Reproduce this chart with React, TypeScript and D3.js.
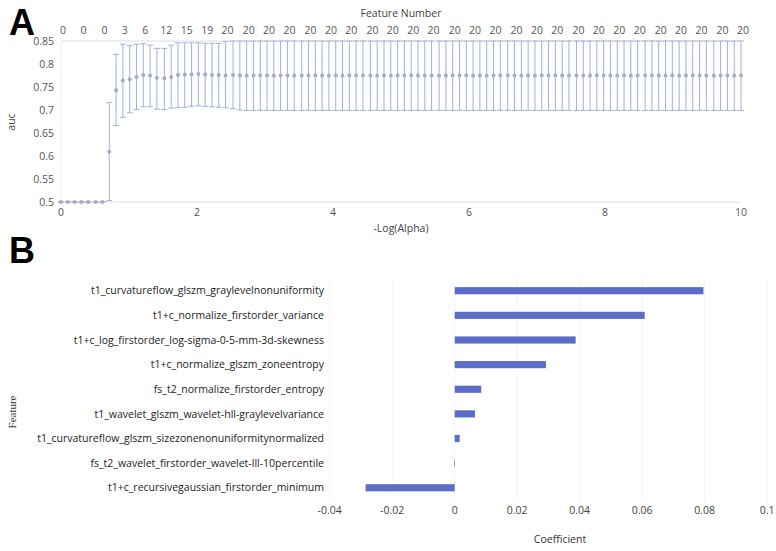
import React from "react";
import * as d3 from "d3";

// Panel A: -log(alpha) grid, cross-validated auc (mean with upper/lower bars)
const logAlpha = [
  0, 0.1, 0.2, 0.3, 0.4, 0.51, 0.61, 0.71, 0.81, 0.91,
  1.01, 1.11, 1.21, 1.31, 1.41, 1.52, 1.62, 1.72, 1.82, 1.92,
  2.02, 2.12, 2.22, 2.32, 2.42, 2.53, 2.63, 2.73, 2.83, 2.93,
  3.03, 3.13, 3.23, 3.33, 3.43, 3.54, 3.64, 3.74, 3.84, 3.94,
  4.04, 4.14, 4.24, 4.34, 4.44, 4.55, 4.65, 4.75, 4.85, 4.95,
  5.05, 5.15, 5.25, 5.35, 5.45, 5.56, 5.66, 5.76, 5.86, 5.96,
  6.06, 6.16, 6.26, 6.36, 6.46, 6.57, 6.67, 6.77, 6.87, 6.97,
  7.07, 7.17, 7.27, 7.37, 7.47, 7.58, 7.68, 7.78, 7.88, 7.98,
  8.08, 8.18, 8.28, 8.38, 8.48, 8.59, 8.69, 8.79, 8.89, 8.99,
  9.09, 9.19, 9.29, 9.39, 9.49, 9.6, 9.7, 9.8, 9.9, 10,
];

const aucMean = [
  0.5, 0.5, 0.5, 0.5, 0.5, 0.5, 0.5, 0.609, 0.743, 0.764,
  0.767, 0.772, 0.776, 0.775, 0.77, 0.769, 0.772, 0.776, 0.777, 0.777,
  0.778, 0.777, 0.776, 0.776, 0.775, 0.776, 0.775, 0.775, 0.775, 0.775,
  0.775, 0.775, 0.775, 0.775, 0.775, 0.775, 0.775, 0.775, 0.775, 0.775,
  0.775, 0.775, 0.775, 0.775, 0.775, 0.775, 0.775, 0.775, 0.775, 0.775,
  0.775, 0.775, 0.775, 0.775, 0.775, 0.775, 0.775, 0.775, 0.775, 0.775,
  0.775, 0.775, 0.775, 0.775, 0.775, 0.775, 0.775, 0.775, 0.775, 0.775,
  0.775, 0.775, 0.775, 0.775, 0.775, 0.775, 0.775, 0.775, 0.775, 0.775,
  0.775, 0.775, 0.775, 0.775, 0.775, 0.775, 0.775, 0.775, 0.775, 0.775,
  0.775, 0.775, 0.775, 0.775, 0.775, 0.775, 0.775, 0.775, 0.775, 0.775,
];

const aucUpper = [
  0.5, 0.5, 0.5, 0.5, 0.5, 0.5, 0.5, 0.716, 0.821, 0.843,
  0.84, 0.843, 0.844, 0.841, 0.834, 0.834, 0.841, 0.846, 0.846, 0.846,
  0.846, 0.845, 0.845, 0.845, 0.849, 0.85, 0.85, 0.85, 0.85, 0.85,
  0.85, 0.85, 0.85, 0.85, 0.85, 0.85, 0.85, 0.85, 0.85, 0.85,
  0.85, 0.85, 0.85, 0.85, 0.85, 0.85, 0.85, 0.85, 0.85, 0.85,
  0.85, 0.85, 0.85, 0.85, 0.85, 0.85, 0.85, 0.85, 0.85, 0.85,
  0.85, 0.85, 0.85, 0.85, 0.85, 0.85, 0.85, 0.85, 0.85, 0.85,
  0.85, 0.85, 0.85, 0.85, 0.85, 0.85, 0.85, 0.85, 0.85, 0.85,
  0.85, 0.85, 0.85, 0.85, 0.85, 0.85, 0.85, 0.85, 0.85, 0.85,
  0.85, 0.85, 0.85, 0.85, 0.85, 0.85, 0.85, 0.85, 0.85, 0.85,
];

const aucLower = [
  0.5, 0.5, 0.5, 0.5, 0.5, 0.5, 0.5, 0.503, 0.666, 0.684,
  0.694, 0.701, 0.707, 0.707, 0.702, 0.701, 0.704, 0.705, 0.706, 0.708,
  0.709, 0.708, 0.707, 0.706, 0.705, 0.703, 0.7, 0.699, 0.699, 0.699,
  0.699, 0.699, 0.699, 0.699, 0.699, 0.699, 0.699, 0.699, 0.699, 0.699,
  0.699, 0.699, 0.699, 0.699, 0.699, 0.699, 0.699, 0.699, 0.699, 0.699,
  0.699, 0.699, 0.699, 0.699, 0.699, 0.699, 0.699, 0.699, 0.699, 0.699,
  0.699, 0.699, 0.699, 0.699, 0.699, 0.699, 0.699, 0.699, 0.699, 0.699,
  0.699, 0.699, 0.699, 0.699, 0.699, 0.699, 0.699, 0.699, 0.699, 0.699,
  0.699, 0.699, 0.699, 0.699, 0.699, 0.699, 0.699, 0.699, 0.699, 0.699,
  0.699, 0.699, 0.699, 0.699, 0.699, 0.699, 0.699, 0.699, 0.699, 0.699,
];

// feature count shown on the top axis, one label every 3rd alpha
const featureNumber = [
  0, 0, 0, 3, 6, 12, 15, 19, 20, 20, 20, 20, 20, 20, 20, 20, 20,
  20, 20, 20, 20, 20, 20, 20, 20, 20, 20, 20, 20, 20, 20, 20, 20, 20,
];

const aucTicks = [0.5, 0.55, 0.6, 0.65, 0.7, 0.75, 0.8, 0.85];

// Panel B: selected features and their coefficients
const features = [
  "t1_curvatureflow_glszm_graylevelnonuniformity",
  "t1+c_normalize_firstorder_variance",
  "t1+c_log_firstorder_log-sigma-0-5-mm-3d-skewness",
  "t1+c_normalize_glszm_zoneentropy",
  "fs_t2_normalize_firstorder_entropy",
  "t1_wavelet_glszm_wavelet-hll-graylevelvariance",
  "t1_curvatureflow_glszm_sizezonenonuniformitynormalized",
  "fs_t2_wavelet_firstorder_wavelet-lll-10percentile",
  "t1+c_recursivegaussian_firstorder_minimum",
];
const coefficients = [0.0796, 0.0608, 0.0387, 0.0292, 0.0085, 0.0065, 0.0016, -0.0002, -0.0285];
const coefTicks = [-0.04, -0.02, 0, 0.02, 0.04, 0.06, 0.08, 0.1];

const W = 776;
const H = 551;
const sans = "'Open Sans', 'Noto Sans', sans-serif";
const labelColor = "#555";
const barColor = "#5b6dc8";
const errColor = "#9fb0d8";
const dotColor = "#a9a9cb";

export default function App() {
  const xA = d3.scaleLinear().domain([0, 10]).range([61, 741]);
  const yA = d3.scaleLinear().domain([0.5, 0.85]).range([202, 41]);
  const capW = 3;

  const xB = d3.scaleLinear().domain([-0.04, 0.1]).range([329.7, 767.2]);
  const yB = d3.scaleBand().domain(features).range([278.4, 500.1]).paddingInner(0.71).paddingOuter(0.355);

  return (
    <svg
      width={W}
      height={H}
      style={{ position: "absolute", left: 0, top: 0, background: "#fff" }}
      fontFamily={sans}
    >
      {/* ---------- Panel A ---------- */}
      <text x={9} y={35} fontSize={36} fontWeight="bold" fontFamily="'Liberation Sans', Arial, sans-serif" fill="#000">
        A
      </text>

      <text x={401} y={17} fontSize={10.5} textAnchor="middle" fill="#444">
        Feature Number
      </text>
      {featureNumber.map((n, i) => (
        <text key={"fn" + i} x={xA(logAlpha[i * 3]) + 2} y={34} fontSize={10.5} textAnchor="middle" fill={labelColor}>
          {n}
        </text>
      ))}

      {/* frame lines */}
      <line x1={xA(0)} x2={xA(10)} y1={yA(0.85)} y2={yA(0.85)} stroke="#dcdcdc" />
      <line x1={xA(0)} x2={xA(10)} y1={yA(0.5)} y2={yA(0.5)} stroke="#dcdcdc" />
      <line x1={xA(0)} x2={xA(0)} y1={yA(0.85)} y2={yA(0.5)} stroke="#f0f0f0" />

      {aucTicks.map((t) => (
        <text key={"ya" + t} x={54} y={yA(t)} dy="0.35em" fontSize={10.5} textAnchor="end" fill={labelColor}>
          {t}
        </text>
      ))}
      {xA.ticks(5).map((t) => (
        <text key={"xa" + t} x={xA(t)} y={216} fontSize={10.5} textAnchor="middle" fill={labelColor}>
          {t}
        </text>
      ))}
      <text x={401} y={232} fontSize={10.5} textAnchor="middle" fill="#444">
        -Log(Alpha)
      </text>
      <text transform={`translate(15,122) rotate(-90)`} fontSize={10.5} textAnchor="middle" fill="#444">
        auc
      </text>

      {/* error bars */}
      {logAlpha.map((a, i) => {
        const x = xA(a);
        return (
          <g key={"eb" + i} stroke={errColor} strokeWidth={1}>
            <line x1={x} x2={x} y1={yA(aucUpper[i])} y2={yA(aucLower[i])} />
            <line x1={x - capW} x2={x + capW} y1={yA(aucUpper[i])} y2={yA(aucUpper[i])} />
            <line x1={x - capW} x2={x + capW} y1={yA(aucLower[i])} y2={yA(aucLower[i])} />
          </g>
        );
      })}
      {logAlpha.map((a, i) => (
        <circle key={"pt" + i} cx={xA(a)} cy={yA(aucMean[i])} r={2} fill={dotColor} />
      ))}

      {/* ---------- Panel B ---------- */}
      <text x={9} y={263} fontSize={36} fontWeight="bold" fontFamily="'Liberation Sans', Arial, sans-serif" fill="#000">
        B
      </text>

      {coefTicks.map((t) => (
        <line key={"gb" + t} x1={xB(t)} x2={xB(t)} y1={278} y2={500} stroke="#f3f3f3" />
      ))}

      {features.map((f, i) => {
        const v = coefficients[i];
        const x0 = xB(Math.min(0, v));
        const w = Math.max(0.6, Math.abs(xB(v) - xB(0)));
        return (
          <rect key={"bar" + i} x={x0} y={yB(f)} width={w} height={yB.bandwidth()} fill={barColor} />
        );
      })}

      {features.map((f) => (
        <text
          key={"lb" + f}
          x={324}
          y={(yB(f) as number) + yB.bandwidth() / 2}
          dy="0.35em"
          fontSize={10.5}
          textAnchor="end"
          fill="#222"
        >
          {f}
        </text>
      ))}

      {coefTicks.map((t) => (
        <text key={"xb" + t} x={xB(t)} y={514} fontSize={10.5} textAnchor="middle" fill="#444">
          {t}
        </text>
      ))}
      <text x={560} y={543} fontSize={10.5} textAnchor="middle" fill="#333">
        Coefficient
      </text>
      <text
        transform={`translate(16,412) rotate(-90)`}
        fontSize={11}
        textAnchor="middle"
        fill="#333"
        fontFamily="'Liberation Serif', 'DejaVu Serif', serif"
      >
        Feature
      </text>
    </svg>
  );
}
